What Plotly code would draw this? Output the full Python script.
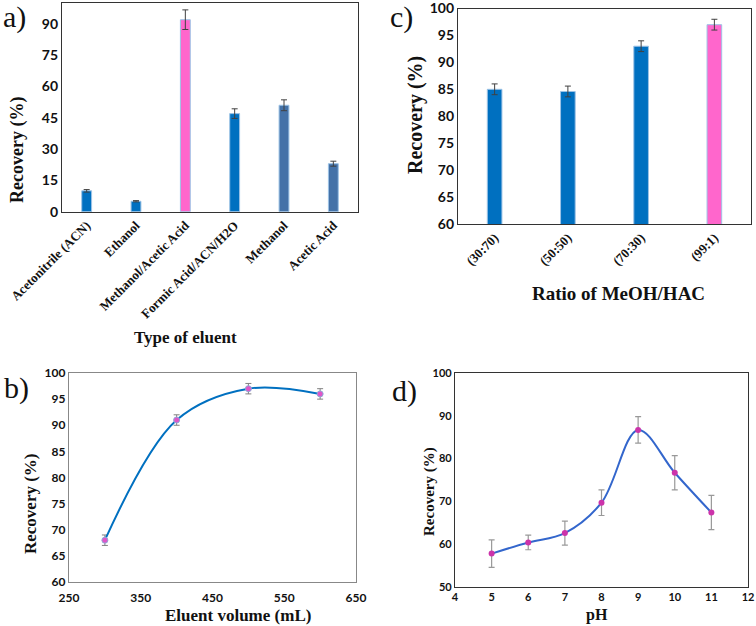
import plotly.graph_objects as go

# ---- data ----
eluents = ["Acetonitrile (ACN)", "Ethanol", "Methanol/Acetic Acid",
           "Formic Acid/ACN/H2O", "Methanol", "Acetic Acid"]
eluent_rec = [10, 5, 92, 47, 51, 23]
eluent_err = [0.6, 0.3, 4.7, 2.3, 2.6, 1.2]

ratios = ["(30:70)", "(50:50)", "(70:30)", "(99:1)"]
ratio_rec = [85, 84.6, 93, 97]
ratio_err = [1.0, 1.0, 1.0, 1.0]

volume = [300, 400, 500, 600]
volume_rec = [68, 91, 97, 96]
volume_err = [1.0, 1.0, 1.0, 1.0]

ph = [5, 6, 7, 8, 9, 10, 11]
ph_rec = [57.8, 60.4, 62.6, 69.7, 86.7, 76.7, 67.4]
ph_err = [3.2, 1.7, 2.8, 3.0, 3.1, 4.0, 4.0]

BLUE = "#0070C0"
STEEL = "#4472A8"
PINK = "#FF66CC"

a_colors = [BLUE, BLUE, PINK, BLUE, STEEL, STEEL]
c_colors = [BLUE, BLUE, BLUE, PINK]

W, H = 756, 626
def px(x): return x / W
def py(y): return 1 - y / H

SERIF = "Liberation Serif"
SANS = "Lato"

fig = go.Figure()

fig.add_trace(go.Bar(
    x=eluents, y=eluent_rec, marker=dict(color=a_colors, line=dict(color="#9DC3E6", width=1)),
    width=0.2, error_y=dict(type="data", array=eluent_err, color="#404040", thickness=1, width=3),
    xaxis="x", yaxis="y", showlegend=False))

fig.add_trace(go.Bar(
    x=ratios, y=ratio_rec, marker=dict(color=c_colors, line=dict(color="#9DC3E6", width=1)),
    width=0.2, error_y=dict(type="data", array=ratio_err, color="#404040", thickness=1, width=3),
    xaxis="x2", yaxis="y2", showlegend=False))

fig.add_trace(go.Scatter(
    x=volume, y=volume_rec, mode="lines+markers", line=dict(color=BLUE, width=2, shape="spline", smoothing=1.0),
    marker=dict(color="#E055C8", size=6, line=dict(color="#8FA8D8", width=1)),
    error_y=dict(type="data", array=volume_err, color="#808080", thickness=1, width=3),
    xaxis="x3", yaxis="y3", showlegend=False))

fig.add_trace(go.Scatter(
    x=ph, y=ph_rec, mode="lines+markers", line=dict(color="#3366CC", width=2, shape="spline", smoothing=1.0),
    marker=dict(color="#CC33AA", size=6),
    error_y=dict(type="data", array=ph_err, color="#999999", thickness=1.2, width=3),
    xaxis="x4", yaxis="y4", showlegend=False))

def axstyle(**kw):
    d = dict(showline=True, mirror=True, linecolor="#333333", linewidth=1.2,
             showgrid=False, zeroline=False, ticks="", automargin=False,
             ticklabeloverflow="allow")
    d.update(kw)
    return d

fig.update_layout(
    width=W, height=H, margin=dict(l=0, r=0, t=0, b=0, autoexpand=False),
    paper_bgcolor="white", plot_bgcolor="white", bargap=0.8,
    xaxis=axstyle(domain=[px(62), px(358)], anchor="y", tickangle=-45,
                  tickfont=dict(family=SERIF, size=13, weight="bold", color="#111")),
    yaxis=axstyle(domain=[py(211.7), py(3)], anchor="x", range=[0, 100], dtick=15,
                  tickfont=dict(family=SANS, size=14, weight="bold", color="#111")),
    xaxis2=axstyle(domain=[px(458), px(751)], anchor="y2", tickangle=-45,
                   tickfont=dict(family=SERIF, size=13, weight="bold", color="#111")),
    yaxis2=axstyle(domain=[py(224), py(8.5)], anchor="x2", range=[60, 100], dtick=5,
                   tickfont=dict(family=SANS, size=14, weight="bold", color="#111")),
    xaxis3=axstyle(domain=[px(69), px(356)], anchor="y3", range=[250, 650], dtick=100, tick0=250,
                   linecolor="#888888", ticklabelstandoff=4,
                   tickfont=dict(family=SANS, size=12, weight="bold", color="#111")),
    yaxis3=axstyle(domain=[py(582), py(373)], anchor="x3", range=[60, 100], dtick=5,
                   linecolor="#888888",
                   tickfont=dict(family=SANS, size=12, weight="bold", color="#111")),
    xaxis4=axstyle(domain=[px(455), px(748)], anchor="y4", range=[4, 12], dtick=1,
                   tickfont=dict(family=SANS, size=11, weight="bold", color="#111")),
    yaxis4=axstyle(domain=[py(587), py(373)], anchor="x4", range=[50, 100], dtick=10,
                   tickfont=dict(family=SANS, size=11, weight="bold", color="#111")),
)

def ann(text, x, y, size, bold=True, angle=0):
    fig.add_annotation(text=text, x=px(x), y=py(y), xref="paper", yref="paper",
                       showarrow=False, textangle=angle, xanchor="center", yanchor="middle",
                       font=dict(family=SERIF, size=size, color="#111",
                                 weight="bold" if bold else "normal"))

# panel labels
ann("a)", 14, 17, 30, bold=False)
ann("c)", 401, 17, 30, bold=False)
ann("b)", 16, 388, 30, bold=False)
ann("d)", 404, 391, 30, bold=False)

# axis titles
ann("Recovery (%)", 17, 150, 18, angle=-90)
ann("Type of eluent", 185, 337, 17)
ann("Recovery (%)", 415, 115, 20, angle=-90)
ann("Ratio of MeOH/HAC", 618, 293, 19)
ann("Recovery (%)", 30, 504, 17, angle=-90)
ann("Eluent volume (mL)", 238, 615, 17)
ann("Recovery (%)", 429, 492, 15, angle=-90)
ann("pH", 597, 615, 16)

fig.write_html("out.html", config={"displayModeBar": False},
               post_script="document.body.style.margin='0';document.body.style.overflow='hidden';")
